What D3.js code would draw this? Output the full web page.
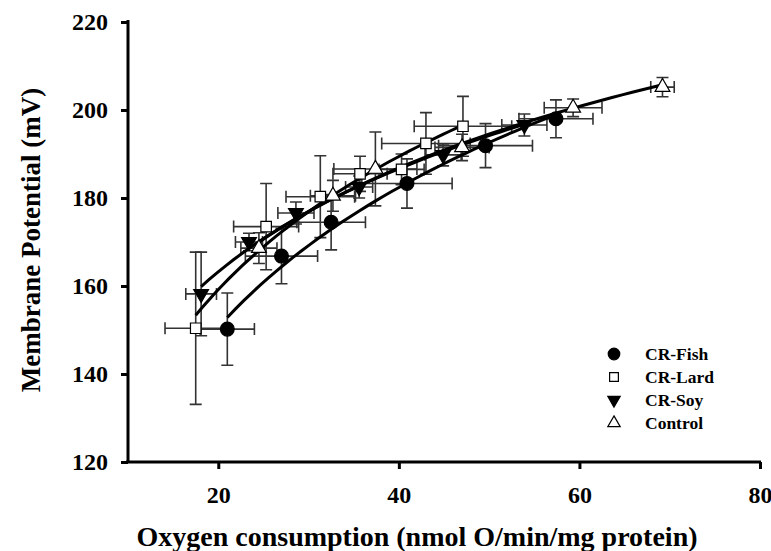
<!DOCTYPE html>
<html>
<head>
<meta charset="utf-8">
<script src="https://cdn.jsdelivr.net/npm/d3@7"></script>
<style>
  body { margin: 0; background: #fff; }
  text { font-family: "Liberation Serif", "Times New Roman", serif; font-weight: bold; }
</style>
</head>
<body>
<div id="chart"></div>
<script>
// values: [x, y, xErr, yErr]
const fishData = [
  [21.0, 150.2, 3.0, 8.2], [27.0, 166.8, 4.0, 6.3], [32.5, 174.5, 3.8, 6.3],
  [40.9, 183.3, 5.0, 5.6], [49.6, 191.9, 5.2, 5.0], [57.4, 198.0, 4.1, 4.3]
];
const lardData = [
  [17.5, 150.4, 3.4, 17.3], [25.3, 173.5, 3.6, 9.8], [31.3, 180.3, 3.8, 9.3],
  [35.7, 185.5, 3.0, 4.0], [40.3, 186.5, 2.5, 3.5], [43.0, 192.4, 4.9, 7.0],
  [47.1, 196.3, 5.4, 6.8]
];
const soyData = [
  [18.1, 158.2, 1.7, 9.5], [23.4, 170.0, 1.5, 2.0], [28.6, 176.6, 2.0, 2.5],
  [35.6, 182.5, 1.5, 2.5], [44.9, 189.8, 2.0, 2.5], [53.9, 196.6, 2.5, 2.5]
];
const controlData = [
  [24.5, 168.6, 2.0, 3.5], [32.7, 180.5, 2.5, 3.5], [37.4, 186.6, 4.6, 8.4],
  [47.0, 191.5, 3.0, 3.0], [59.3, 200.5, 3.2, 2.0], [69.2, 205.2, 1.3, 2.2]
];
const seriesNames = ["CR-Fish", "CR-Lard", "CR-Soy", "Control"];
const xTicks = [20, 40, 60, 80];
const yTicks = [120, 140, 160, 180, 200, 220];

const width = 771, height = 551;
const svg = d3.select("#chart").append("svg")
    .attr("width", width).attr("height", height);

const x = d3.scaleLinear().domain([10, 80]).range([128, 760]);
const y = d3.scaleLinear().domain([120, 220]).range([462, 22]);

const series = [
  { name: seriesNames[0], data: fishData, sym: d3.symbolCircle, size: 150, fill: "#000" },
  { name: seriesNames[1], data: lardData, sym: d3.symbolSquare, size: 110, fill: "#fff" },
  { name: seriesNames[2], data: soyData, sym: d3.symbolTriangle, size: 95, fill: "#000", flip: true },
  { name: seriesNames[3], data: controlData, sym: d3.symbolTriangle, size: 95, fill: "#fff" }
];

// log fit y = a + b ln x for each series
function logFit(data) {
  const lx = data.map(d => Math.log(d[0]));
  const mx = d3.mean(lx), my = d3.mean(data, d => d[1]);
  let sxy = 0, sxx = 0;
  data.forEach((d, i) => { sxy += (lx[i] - mx) * (d[1] - my); sxx += (lx[i] - mx) ** 2; });
  const b = sxy / sxx;
  return { a: my - b * mx, b: b };
}

// axes
const xAxis = svg.append("g").attr("transform", "translate(0,462)")
    .call(d3.axisBottom(x).tickValues(xTicks).tickSize(7).tickPadding(17).tickSizeOuter(0));
const yAxis = svg.append("g").attr("transform", "translate(128,0)")
    .call(d3.axisLeft(y).tickValues(yTicks).tickSize(7).tickPadding(13).tickSizeOuter(0));
[xAxis, yAxis].forEach(g => {
  g.select(".domain").attr("stroke", "#000").attr("stroke-width", 3);
  g.selectAll(".tick line").attr("stroke", "#000").attr("stroke-width", 3);
  g.selectAll(".tick text").attr("fill", "#000").style("font-size", "24px")
    .style("font-family", "Liberation Serif, serif").style("font-weight", "bold");
});
xAxis.select(".domain").attr("d", "M126,0H761");
yAxis.select(".domain").attr("d", "M0,20V463");

// error bars
const cap = 6;
series.forEach(s => {
  const g = svg.append("g").attr("stroke", "#333").attr("stroke-width", 1.6).attr("fill", "none");
  s.data.forEach(d => {
    const cx = x(d[0]), cy = y(d[1]);
    const x0 = x(d[0] - d[2]), x1 = x(d[0] + d[2]);
    const y0 = y(d[1] - d[3]), y1 = y(d[1] + d[3]);
    g.append("path").attr("d",
      `M${x0},${cy}H${x1}M${x0},${cy - cap}V${cy + cap}M${x1},${cy - cap}V${cy + cap}` +
      `M${cx},${y0}V${y1}M${cx - cap},${y0}H${cx + cap}M${cx - cap},${y1}H${cx + cap}`);
  });
});

// fitted curves
series.forEach(s => {
  const f = logFit(s.data);
  const [lo, hi] = d3.extent(s.data, d => d[0]);
  const pts = d3.range(0, 41).map(i => lo + (hi - lo) * i / 40);
  svg.append("path")
    .datum(pts)
    .attr("fill", "none").attr("stroke", "#000").attr("stroke-width", 3)
    .attr("d", d3.line().x(v => x(v)).y(v => y(f.a + f.b * Math.log(v))));
});

// markers
series.forEach(s => {
  svg.append("g").selectAll("path").data(s.data).join("path")
    .attr("d", d3.symbol().type(s.sym).size(s.size))
    .attr("transform", d => `translate(${x(d[0])},${y(d[1])})${s.flip ? " rotate(180)" : ""}`)
    .attr("fill", s.fill).attr("stroke", "#000").attr("stroke-width", 1.2);
});

// legend
const legend = svg.append("g").attr("transform", "translate(614,354)");
series.forEach((s, i) => {
  const row = legend.append("g").attr("transform", `translate(0,${i * 23})`);
  row.append("path")
    .attr("d", d3.symbol().type(s.sym).size(s.size * 0.7))
    .attr("transform", s.flip ? "rotate(180)" : null)
    .attr("fill", s.fill).attr("stroke", "#000").attr("stroke-width", 1.2);
  row.append("text").attr("x", 31).attr("y", 6).style("font-size", "17.5px").text(s.name);
});

// axis titles
svg.append("text").attr("x", 417).attr("y", 546).attr("text-anchor", "middle")
  .style("font-size", "28px").text("Oxygen consumption (nmol O/min/mg protein)");
svg.append("text").attr("transform", "translate(40,240) rotate(-90)").attr("text-anchor", "middle")
  .style("font-size", "27px").text("Membrane Potential (mV)");
</script>
</body>
</html>
